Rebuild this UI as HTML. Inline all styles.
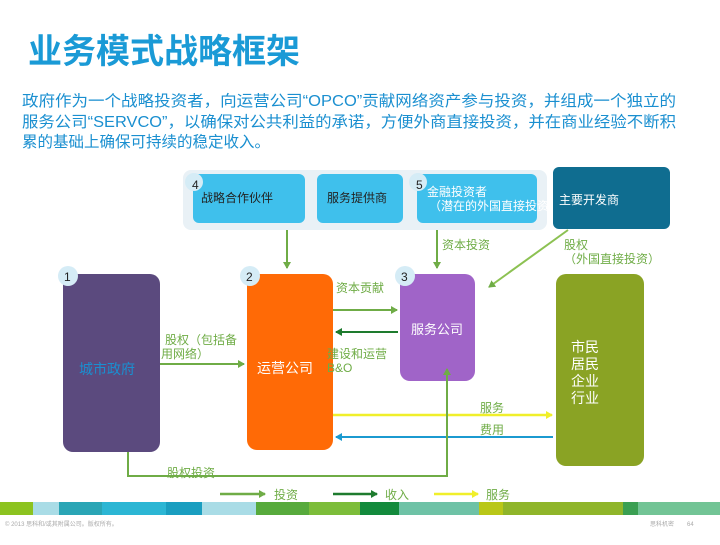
<!DOCTYPE html>
<html><head><meta charset="utf-8"><style>
body{margin:0;width:720px;height:540px;background:#fff;overflow:hidden;font-family:"Liberation Sans","Noto Sans CJK SC",sans-serif}
svg text{font-family:"Liberation Sans","Noto Sans CJK SC",sans-serif}
</style></head><body>
<svg width="720" height="540" viewBox="0 0 720 540" xmlns="http://www.w3.org/2000/svg">
<defs>
<marker id="ag" markerWidth="8" markerHeight="8" refX="6" refY="4" orient="auto" markerUnits="userSpaceOnUse"><path d="M0,0 L7,4 L0,8 z" fill="#6fac46"/></marker>
<marker id="ad" markerWidth="8" markerHeight="8" refX="6" refY="4" orient="auto" markerUnits="userSpaceOnUse"><path d="M0,0 L7,4 L0,8 z" fill="#1e7b2e"/></marker>
<marker id="ay" markerWidth="8" markerHeight="8" refX="6" refY="4" orient="auto" markerUnits="userSpaceOnUse"><path d="M0,0 L7,4 L0,8 z" fill="#f0ef2a"/></marker>
<marker id="ab" markerWidth="8" markerHeight="8" refX="6" refY="4" orient="auto" markerUnits="userSpaceOnUse"><path d="M0,0 L7,4 L0,8 z" fill="#1b9ad0"/></marker>
</defs>
<text x="28" y="63" font-size="34" font-weight="bold" fill="#1a9ad6">业务模式战略框架</text>
<g font-size="15.5" fill="#1a8fd0">
<text x="22" y="106" textLength="654" lengthAdjust="spacingAndGlyphs">政府作为一个战略投资者，向运营公司“OPCO”贡献网络资产参与投资，并组成一个独立的</text>
<text x="22" y="127" textLength="654" lengthAdjust="spacingAndGlyphs">服务公司“SERVCO”，以确保对公共利益的承诺，方便外商直接投资，并在商业经验不断积</text>
<text x="22" y="147">累的基础上确保可持续的稳定收入。</text>
</g>
<rect x="183" y="170" width="364" height="60" rx="8" fill="#e9f1f6"/>
<rect x="193" y="174" width="112" height="49" rx="6" fill="#3fc0ec"/>
<rect x="317" y="174" width="86" height="49" rx="6" fill="#3fc0ec"/>
<rect x="417" y="174" width="120" height="49" rx="6" fill="#3fc0ec"/>
<text x="427" y="196" font-size="12" fill="#fff">金融投资者</text>
<text x="429" y="210" font-size="12" fill="#fff">（潜在的外国直接投资）</text>
<rect x="553" y="167" width="117" height="62" rx="6" fill="#0f6d90"/>
<circle cx="194" cy="182" r="9" fill="#d5ecf6"/><text x="192" y="189" font-size="12" fill="#222">4</text>
<circle cx="418" cy="182" r="9" fill="#d5ecf6"/><text x="416" y="189" font-size="12" fill="#222">5</text>
<text x="201" y="202" font-size="12" fill="#222">战略合作伙伴</text>
<text x="327" y="202" font-size="12" fill="#222">服务提供商</text>
<text x="559" y="204" font-size="12" fill="#fff">主要开发商</text>
<line x1="287" y1="230" x2="287" y2="268" stroke="#6fac46" stroke-width="2" marker-end="url(#ag)"/>
<line x1="437" y1="230" x2="437" y2="268" stroke="#6fac46" stroke-width="2" marker-end="url(#ag)"/>
<text x="442" y="249" font-size="12" fill="#6fac46">资本投资</text>
<line x1="568" y1="230" x2="489" y2="287" stroke="#8cc152" stroke-width="2" marker-end="url(#ag)"/>
<text x="564" y="249" font-size="12" fill="#6fac46">股权</text>
<text x="564" y="263" font-size="12" fill="#6fac46">（外国直接投资）</text>
<rect x="63" y="274" width="97" height="178" rx="10" fill="#5b4a7e"/>
<rect x="247" y="274" width="86" height="176" rx="10" fill="#ff6a06"/>
<rect x="400" y="274" width="75" height="107" rx="10" fill="#a064c8"/>
<rect x="556" y="274" width="88" height="192" rx="10" fill="#8aa324"/>
<circle cx="68" cy="276" r="10" fill="#d5ecf6"/><text x="64" y="281" font-size="12" fill="#222">1</text>
<circle cx="250" cy="276" r="10" fill="#d5ecf6"/><text x="246" y="281" font-size="12" fill="#222">2</text>
<circle cx="405" cy="276" r="10" fill="#d5ecf6"/><text x="401" y="281" font-size="12" fill="#222">3</text>
<text x="79" y="374" font-size="14" fill="#1a8fd0">城市政府</text>
<text x="257" y="373" font-size="14" fill="#fff">运营公司</text>
<text x="411" y="334" font-size="13" fill="#fff">服务公司</text>
<g font-size="14" fill="#fff"><text x="571" y="352">市民</text><text x="571" y="369">居民</text><text x="571" y="386">企业</text><text x="571" y="403">行业</text></g>
<text x="336" y="292" font-size="12" fill="#6fac46">资本贡献</text>
<line x1="333" y1="310" x2="397" y2="310" stroke="#6fac46" stroke-width="2" marker-end="url(#ag)"/>
<line x1="398" y1="332" x2="336" y2="332" stroke="#1e7b2e" stroke-width="2" marker-end="url(#ad)"/>
<text x="327" y="358" font-size="12" fill="#6fac46">建设和运营</text>
<text x="327" y="372" font-size="12" fill="#6fac46">B&amp;O</text>
<text x="165" y="344" font-size="12" fill="#6fac46">股权（包括备</text>
<text x="161" y="358" font-size="12" fill="#6fac46">用网络）</text>
<line x1="160" y1="364" x2="244" y2="364" stroke="#6fac46" stroke-width="2" marker-end="url(#ag)"/>
<text x="480" y="412" font-size="12" fill="#6fac46">服务</text>
<line x1="333" y1="415" x2="552" y2="415" stroke="#f0ef2a" stroke-width="2.5" marker-end="url(#ay)"/>
<text x="480" y="434" font-size="12" fill="#6fac46">费用</text>
<line x1="553" y1="437" x2="336" y2="437" stroke="#1b9ad0" stroke-width="2" marker-end="url(#ab)"/>
<polyline points="128,452 128,476 447,476 447,369" fill="none" stroke="#6fac46" stroke-width="2" marker-end="url(#ag)"/>
<text x="167" y="477" font-size="12" fill="#6fac46">股权投资</text>
<line x1="220" y1="494" x2="265" y2="494" stroke="#6fac46" stroke-width="2.5" marker-end="url(#ag)"/>
<text x="274" y="499" font-size="12" fill="#6fac46">投资</text>
<line x1="333" y1="494" x2="377" y2="494" stroke="#1e7b2e" stroke-width="2.5" marker-end="url(#ad)"/>
<text x="385" y="499" font-size="12" fill="#6fac46">收入</text>
<line x1="434" y1="494" x2="478" y2="494" stroke="#f0ef2a" stroke-width="2.5" marker-end="url(#ay)"/>
<text x="486" y="499" font-size="12" fill="#6fac46">服务</text>
<g>
<rect x="0" y="502" width="33" height="13" fill="#8cc320"/>
<rect x="33" y="502" width="26" height="13" fill="#a9dce6"/>
<rect x="59" y="502" width="43" height="13" fill="#2aa5b5"/>
<rect x="102" y="502" width="64" height="13" fill="#2cb6d4"/>
<rect x="166" y="502" width="36" height="13" fill="#1a9ec0"/>
<rect x="202" y="502" width="54" height="13" fill="#a9dce6"/>
<rect x="256" y="502" width="53" height="13" fill="#57aa3c"/>
<rect x="309" y="502" width="51" height="13" fill="#7cbd3a"/>
<rect x="360" y="502" width="39" height="13" fill="#138a3c"/>
<rect x="399" y="502" width="80" height="13" fill="#6ec2a6"/>
<rect x="479" y="502" width="24" height="13" fill="#b9c718"/>
<rect x="503" y="502" width="120" height="13" fill="#8fb52a"/>
<rect x="623" y="502" width="15" height="13" fill="#3a9f52"/>
<rect x="638" y="502" width="82" height="13" fill="#72c495"/>
</g>
<text x="5" y="526" font-size="6" fill="#aaa">© 2013 思科和/或其附属公司。版权所有。</text>
<text x="650" y="526" font-size="6" fill="#aaa">思科机密</text>
<text x="687" y="526" font-size="6" fill="#aaa">64</text>
</svg>
</body></html>
